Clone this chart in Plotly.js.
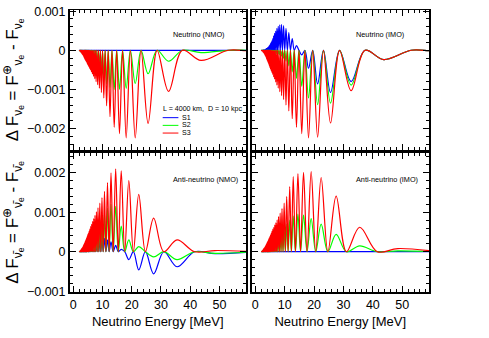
<!DOCTYPE html>
<html>
<head>
<meta charset="utf-8">
<script src="https://cdn.plot.ly/plotly-3.0.1.min.js"></script>
<style>
  body { margin: 0; background: #fff; }
  #myDiv { width: 489px; height: 338px; }
</style>
</head>
<body>
<div id="myDiv"></div>
<script>
// Energies (MeV) where the lobes reach their extremum, high E to low E.
// Below ~6 MeV the oscillations are denser than a pixel, so the spacing there is only estimated.
const nuPeakE = [59.5, 43.7, 32.6, 25.6, 21.2, 18.1, 15.8, 14.0, 12.56, 11.4, 10.44, 9.62, 8.93, 8.33, 7.80, 7.34,
  6.93, 6.56, 6.23, 5.93, 5.66, 5.41, 5.18, 4.97, 4.78, 4.60, 4.44, 4.28, 4.14, 4.00,
  3.8, 3.6, 3.4, 3.2, 3.0, 2.8, 2.6, 2.4, 2.2];
// Energies where the neutrino curves come back to zero (one more than the peaks)
const nuNodeE = [62, 53.0, 37.35, 28.68, 23.19, 19.53, 16.87, 14.85, 13.24, 11.95, 10.90, 10.01, 9.26, 8.62, 8.06,
  7.56, 7.13, 6.74, 6.39, 6.08, 5.79, 5.53, 5.29, 5.07, 4.87, 4.69, 4.52, 4.36, 4.21, 4.07,
  3.9, 3.7, 3.5, 3.3, 3.1, 2.9, 2.7, 2.5, 2.3, 2.0];

const antiPeakE = [48.5, 35.5, 27.5, 22.4, 19.0, 16.4, 14.5, 12.9, 11.7, 10.67, 9.81, 9.08, 8.45, 7.91, 7.42,
  7.0, 6.62, 6.28, 5.97, 5.69, 5.44, 5.21, 4.99, 4.80, 4.61, 4.45, 4.29, 4.14, 4.01,
  3.82, 3.62, 3.42, 3.22, 3.02, 2.82, 2.62, 2.42, 2.22];
const antiNodeE = [62, 41.5, 30.99, 24.69, 20.56, 17.60, 15.39, 13.65, 12.27, 11.16, 10.22, 9.43, 8.75, 8.17, 7.66,
  7.20, 6.80, 6.45, 6.12, 5.83, 5.56, 5.32, 5.10, 4.89, 4.70, 4.53, 4.37, 4.21, 4.07,
  3.92, 3.72, 3.52, 3.32, 3.12, 2.92, 2.72, 2.52, 2.32, 2.0];

// flat S1 lines (neutrino NMO, anti-neutrino IMO)
const flatE = [2.0, 59.5];
const flatV = [0, 0];

// Neutrino (NMO): lobe depths at nuPeakE
const nuNmoS2 = [0, -0.00006, -0.00028, -0.0006, -0.00085, -0.00097, -0.001, -0.001, -0.00095, -0.00086,
  -0.00077, -0.0007, -0.00063, -0.00058, -0.00053, -0.00049, -0.00045, -0.00041, -0.00038, -0.00035,
  -0.00032, -0.0003, -0.00028, -0.00026, -0.00024, -0.00022, -0.0002, -0.00019, -0.00018, -0.00016,
  -0.00014, -0.00012, -0.0001, -0.00008, -0.00006, -0.00005, -0.00004, -0.00002, -0.00001];
const nuNmoS3 = [-0.00001, -0.00026, -0.00105, -0.00187, -0.00224, -0.00224, -0.00213, -0.00197, -0.0017, -0.00142,
  -0.00122, -0.00108, -0.00097, -0.00088, -0.0008, -0.00073, -0.00067, -0.00061, -0.00056, -0.00051,
  -0.00047, -0.00043, -0.0004, -0.00037, -0.00034, -0.00031, -0.00029, -0.00027, -0.00025, -0.00023,
  -0.0002, -0.00017, -0.00014, -0.00011, -0.00009, -0.00007, -0.00005, -0.00003, -0.00001];

// Neutrino (IMO)
const nuImoS1 = [-0.00001, -0.00024, -0.0008, -0.00108, -0.00086, -0.00046, -0.00012, 0.00012, 0.0003, 0.00045,
  0.00056, 0.00063, 0.00066, 0.00065, 0.00061, 0.00056, 0.00049, 0.00043, 0.00037, 0.0003,
  0.00024, 0.0002, 0.00017, 0.00014, 0.00012, 0.0001, 0.00008, 0.00007, 0.00006, 0.00005,
  0.00004, 0.00003, 0.00002, 0.00001, 0.00001, 0.00001, 0, 0, 0];
const nuImoS2 = [-0.00001, -0.00024, -0.00089, -0.00135, -0.00139, -0.00122, -0.00092, -0.00072, -0.00055, -0.0004,
  -0.00028, -0.0002, -0.00015, -0.00012, -0.0001, -0.00009, -0.00008, -0.00007, -0.00006, -0.00006,
  -0.00005, -0.00005, -0.00004, -0.00004, -0.00003, -0.00003, -0.00003, -0.00002, -0.00002, -0.00002,
  -0.00002, -0.00001, -0.00001, -0.00001, -0.00001, 0, 0, 0, 0];
const nuImoS3 = [-0.00001, -0.00024, -0.00103, -0.00186, -0.00222, -0.00224, -0.00213, -0.00197, -0.00175, -0.00155,
  -0.0014, -0.00126, -0.00116, -0.00106, -0.00097, -0.00089, -0.00081, -0.00074, -0.00068, -0.00062,
  -0.00057, -0.00052, -0.00048, -0.00044, -0.0004, -0.00036, -0.00033, -0.0003, -0.00027, -0.00025,
  -0.00021, -0.00017, -0.00014, -0.00011, -0.00008, -0.00006, -0.00004, -0.00002, -0.00001];

// Anti-neutrino (NMO): lobe heights at antiPeakE
const antiNmoS1 = [-0.00005, -0.00038, -0.00056, -0.00046, -0.0002, 0.00006, 0.00016, 0.00025, 0.0003, 0.00034,
  0.00035, 0.00034, 0.00032, 0.0003, 0.00027, 0.00024, 0.00021, 0.00019, 0.00017, 0.00015,
  0.00013, 0.00011, 0.0001, 0.00009, 0.00008, 0.00007, 0.00006, 0.00005, 0.00005,
  0.00004, 0.00003, 0.00003, 0.00002, 0.00002, 0.00001, 0.00001, 0.00001, 0];
const antiNmoS2 = [-0.00004, -0.0002, -0.00013, 0.00013, 0.0003, 0.00065, 0.00115, 0.0012, 0.0011, 0.00098,
  0.00088, 0.0008, 0.00072, 0.00066, 0.0006, 0.00055, 0.0005, 0.00046, 0.00042, 0.00038,
  0.00035, 0.00032, 0.00029, 0.00026, 0.00024, 0.00022, 0.0002, 0.00018, 0.00016,
  0.00014, 0.00012, 0.0001, 0.00008, 0.00006, 0.00005, 0.00003, 0.00002, 0.00001];
const antiNmoS3 = [0.00003, 0.0003, 0.00085, 0.00145, 0.0018, 0.00205, 0.0021, 0.002, 0.00175, 0.00153,
  0.00137, 0.00123, 0.00111, 0.00101, 0.00092, 0.00084, 0.00077, 0.0007, 0.00064, 0.00058,
  0.00053, 0.00048, 0.00044, 0.0004, 0.00036, 0.00033, 0.0003, 0.00027, 0.00025,
  0.00021, 0.00018, 0.00015, 0.00012, 0.00009, 0.00007, 0.00005, 0.00003, 0.00001];

// Anti-neutrino (IMO)
const antiImoS2 = [0.00002, 0.00015, 0.00044, 0.0007, 0.00084, 0.00093, 0.00095, 0.0009, 0.0008, 0.0007,
  0.00062, 0.00055, 0.00049, 0.00045, 0.00041, 0.00037, 0.00034, 0.00031, 0.00028, 0.00026,
  0.00024, 0.00022, 0.0002, 0.00018, 0.00017, 0.00015, 0.00014, 0.00013, 0.00012,
  0.0001, 0.00009, 0.00007, 0.00006, 0.00005, 0.00004, 0.00003, 0.00002, 0.00001];
const antiImoS3 = [0.00008, 0.00062, 0.00141, 0.00188, 0.00203, 0.00201, 0.00198, 0.0019, 0.00165, 0.0014,
  0.00123, 0.00109, 0.00098, 0.00089, 0.00081, 0.00074, 0.00068, 0.00062, 0.00057, 0.00052,
  0.00047, 0.00043, 0.00039, 0.00036, 0.00033, 0.0003, 0.00027, 0.00025, 0.00023,
  0.0002, 0.00017, 0.00014, 0.00011, 0.00009, 0.00007, 0.00005, 0.00003, 0.00001];

const seriesNames = ['S1', 'S2', 'S3'];
const seriesColors = ['#0000ff', '#00ff00', '#ff0000'];
const panelLabels = ['Neutrino (NMO)', 'Neutrino (IMO)', 'Anti-neutrino (NMO)', 'Anti-neutrino (IMO)'];

const FONT = 'Liberation Sans, Arial, Helvetica, sans-serif';

// curve goes node -> peak -> node -> ... , zero at every node
const lobes = (peakE, nodeE, amp) => {
    const x = [], y = [];
    peakE.forEach((e, i) => {
        x.push(nodeE[i], e);
        y.push(0, amp[i]);
    });
    x.push(nodeE[nodeE.length - 1]);
    y.push(0);
    return { x, y };
};

const makeTrace = (xy, k, ax) => ({
    x: xy.x,
    y: xy.y,
    type: 'scatter',
    mode: 'lines',
    name: seriesNames[k],
    line: { color: seriesColors[k], width: 1.2, shape: 'spline', smoothing: 1 },
    xaxis: 'x' + ax,
    yaxis: 'y' + ax,
    hoverinfo: 'skip',
    showlegend: false
});

const flat = { x: flatE, y: flatV };

const data = [
    // top left
    makeTrace(flat, 0, ''),
    makeTrace(lobes(nuPeakE, nuNodeE, nuNmoS2), 1, ''),
    makeTrace(lobes(nuPeakE, nuNodeE, nuNmoS3), 2, ''),
    // top right
    makeTrace(lobes(nuPeakE, nuNodeE, nuImoS1), 0, '2'),
    makeTrace(lobes(nuPeakE, nuNodeE, nuImoS2), 1, '2'),
    makeTrace(lobes(nuPeakE, nuNodeE, nuImoS3), 2, '2'),
    // bottom left
    makeTrace(lobes(antiPeakE, antiNodeE, antiNmoS1), 0, '3'),
    makeTrace(lobes(antiPeakE, antiNodeE, antiNmoS2), 1, '3'),
    makeTrace(lobes(antiPeakE, antiNodeE, antiNmoS3), 2, '3'),
    // bottom right
    makeTrace(flat, 0, '4'),
    makeTrace(lobes(antiPeakE, antiNodeE, antiImoS2), 1, '4'),
    makeTrace(lobes(antiPeakE, antiNodeE, antiImoS3), 2, '4')
];

const W = 489, H = 338;
const colL = [69.5 / W, 246 / W];
const colR = [251.5 / W, 429 / W];
const rowT = [1 - 150 / H, 1 - 10 / H];
const rowB = [1 - 292 / H, 1 - 153 / H];

const xAxis = (domain, labels, anchor) => {
    const ax = {
        domain: domain,
        anchor: anchor,
        range: [-1.3, 59.1],
        tick0: 0,
        dtick: 10,
        ticks: 'inside',
        ticklen: 6,
        tickwidth: 1,
        tickcolor: '#000',
        minor: { dtick: 2, ticks: 'inside', ticklen: 3, tickwidth: 1, tickcolor: '#000' },
        showticklabels: labels,
        tickfont: { family: FONT, size: 12.5, color: '#000' },
        showline: true,
        linecolor: '#000',
        linewidth: 1.5,
        mirror: 'allticks',
        showgrid: false,
        zeroline: false
    };
    if (labels) {
        ax.title = { text: 'Neutrino Energy [MeV]', font: { family: FONT, size: 13, color: '#000' }, standoff: 6 };
    }
    return ax;
};

const yAxis = (domain, range, labels, anchor, title) => {
    const ax = {
        domain: domain,
        anchor: anchor,
        range: range,
        tick0: 0,
        dtick: 0.001,
        ticks: 'inside',
        ticklen: 6,
        tickwidth: 1,
        tickcolor: '#000',
        minor: { dtick: 0.0002, ticks: 'inside', ticklen: 3, tickwidth: 1, tickcolor: '#000' },
        showticklabels: labels,
        tickfont: { family: FONT, size: 12.5, color: '#000' },
        showline: true,
        linecolor: '#000',
        linewidth: 1.5,
        mirror: 'allticks',
        showgrid: false,
        zeroline: false
    };
    if (title) {
        ax.title = { text: title, font: { family: FONT, size: 17, color: '#000' }, standoff: 4 };
    }
    return ax;
};

const nuTitle = 'Δ F<sub>ν<sub>e</sub></sub> = F<sup>⊕</sup><sub>ν<sub>e</sub></sub> - F<sub>ν<sub>e</sub></sub>';
const antiTitle = 'Δ F<sub>ν̄<sub>e</sub></sub> = F<sup>⊕</sup><sub>ν̄<sub>e</sub></sub> - F<sub>ν̄<sub>e</sub></sub>';

const topRange = [-0.00255, 0.00103];
const botRange = [-0.00102, 0.0025];

const panelNote = (text, ax, x, y) => ({
    text: text, xref: 'x' + ax + ' domain', yref: 'y' + ax + ' domain',
    x: x, y: y, xanchor: 'center', yanchor: 'middle', showarrow: false,
    font: { family: FONT, size: 7.3, color: '#000' }
});

const legendRows = [0.231, 0.176, 0.121];

const annotations = [
    panelNote(panelLabels[0], '', 0.734, 0.825),
    panelNote(panelLabels[1], '2', 0.724, 0.825),
    panelNote(panelLabels[2], '3', 0.77, 0.808),
    panelNote(panelLabels[3], '4', 0.763, 0.808),
    { text: 'L = 4000 km,  D = 10 kpc', xref: 'x domain', yref: 'y domain', x: 0.518, y: 0.293,
      xanchor: 'left', yanchor: 'middle', showarrow: false, font: { family: FONT, size: 7.1, color: '#000' } }
].concat(seriesNames.map((s, k) => ({
    text: s, xref: 'x domain', yref: 'y domain', x: 0.624, y: legendRows[k],
    xanchor: 'left', yanchor: 'middle', showarrow: false, font: { family: FONT, size: 7.1, color: '#000' }
})));

// legend key lines
const shapes = seriesColors.map((c, k) => ({
    type: 'line', xref: 'x domain', yref: 'y domain',
    x0: 0.528, x1: 0.617, y0: legendRows[k], y1: legendRows[k],
    line: { color: c, width: 1 }
}));

const layout = {
    width: W,
    height: H,
    margin: { l: 0, r: 0, t: 0, b: 0 },
    paper_bgcolor: '#fff',
    plot_bgcolor: '#fff',
    showlegend: false,
    font: { family: FONT, color: '#000' },
    xaxis: xAxis(colL, false, 'y'),
    yaxis: yAxis(rowT, topRange, true, 'x', nuTitle),
    xaxis2: xAxis(colR, false, 'y2'),
    yaxis2: yAxis(rowT, topRange, false, 'x2', null),
    xaxis3: xAxis(colL, true, 'y3'),
    yaxis3: yAxis(rowB, botRange, true, 'x3', antiTitle),
    xaxis4: xAxis(colR, true, 'y4'),
    yaxis4: yAxis(rowB, botRange, false, 'x4', null),
    annotations: annotations,
    shapes: shapes
};

Plotly.newPlot('myDiv', data, layout, { displayModeBar: false, staticPlot: true });
</script>
</body>
</html>
